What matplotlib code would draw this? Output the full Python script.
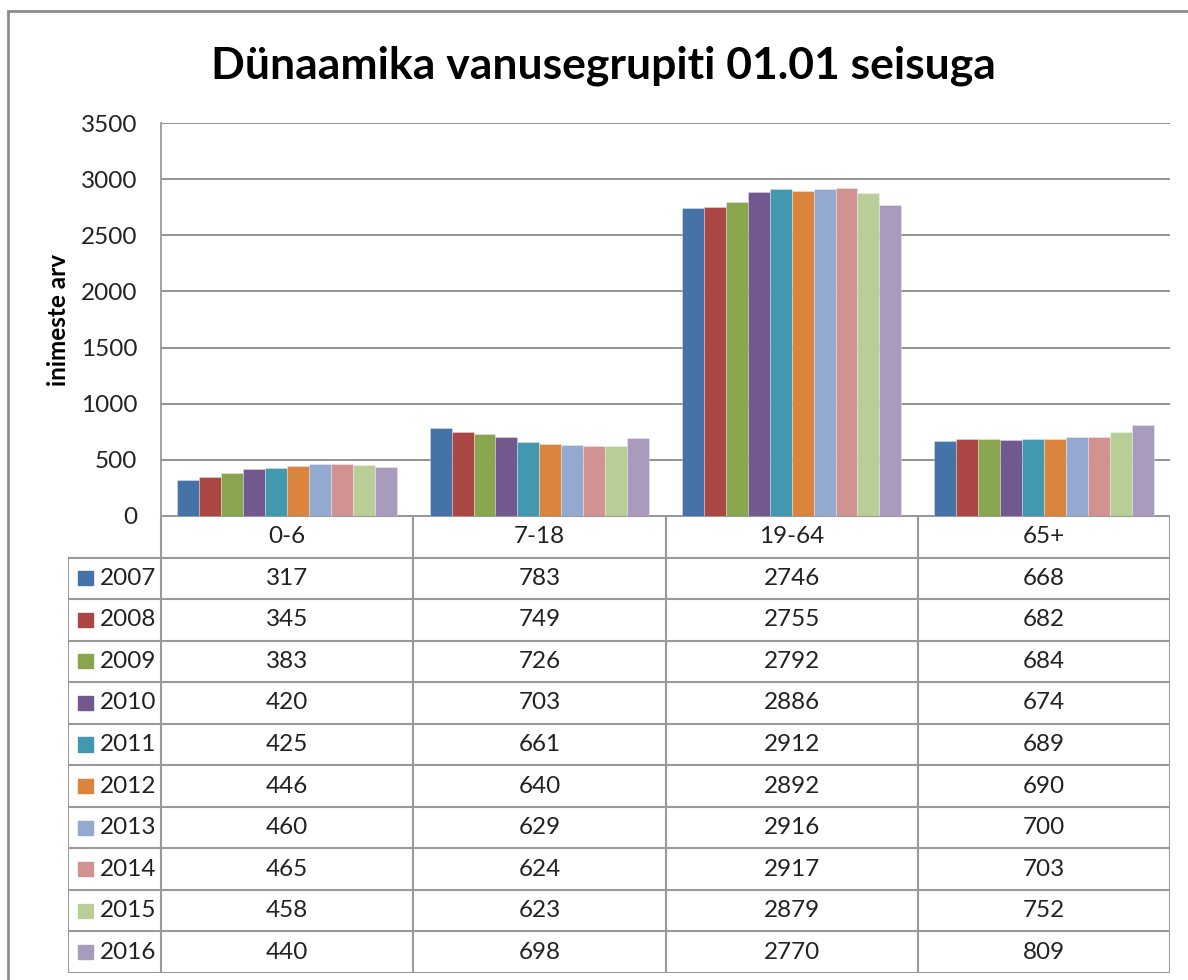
import matplotlib.pyplot as plt
from matplotlib.patches import Rectangle
import numpy as np

plt.rcParams['font.family'] = ['Lato', 'DejaVu Sans']

categories = ['0-6', '7-18', '19-64', '65+']
years = ['2007', '2008', '2009', '2010', '2011', '2012', '2013', '2014', '2015', '2016']
values = [
    [317, 783, 2746, 668],
    [345, 749, 2755, 682],
    [383, 726, 2792, 684],
    [420, 703, 2886, 674],
    [425, 661, 2912, 689],
    [446, 640, 2892, 690],
    [460, 629, 2916, 700],
    [465, 624, 2917, 703],
    [458, 623, 2879, 752],
    [440, 698, 2770, 809],
]
colors = ['#4572A7', '#AA4643', '#89A54E', '#71588F', '#4198AF',
          '#DB843D', '#93A9CF', '#D19392', '#B9CD96', '#A99BBD']
yticks = [0, 500, 1000, 1500, 2000, 2500, 3000, 3500]

W, H = 1188, 980
fig = plt.figure(figsize=(W / 100, H / 100), dpi=100)
line_col = '#9A9A9A'
fs = 17.5

# outer chart border (cut off at right and bottom like the screenshot)
fig.patches.append(Rectangle((8 / W, -0.05), 1.1, 1 - 11 / H + 0.05,
                             transform=fig.transFigure, fill=False,
                             edgecolor='#8C8C8C', lw=2))

# bar chart
x0, x1, ytop, ybot = 161, 1170, 123, 516
ax = fig.add_axes([x0 / W, 1 - ybot / H, (x1 - x0) / W, (ybot - ytop) / H])
x = np.arange(len(categories))
n = len(years)
bw = 0.87 / n
for i, (yr, vals) in enumerate(zip(years, values)):
    ax.bar(x - 0.435 + bw * (i + 0.5), vals, width=bw, color=colors[i],
           edgecolor=(1, 1, 1, 0.35), linewidth=0.6, zorder=3)
ax.set_xlim(-0.5, len(categories) - 0.5)
ax.set_ylim(0, 3500)
ax.set_yticks(yticks)
ax.set_yticklabels([str(t) for t in yticks], fontsize=fs, color='#222222')
ax.set_xticks([])
ax.yaxis.grid(True, color='#8A8A8A', lw=1.3, zorder=0)
for s in ['top', 'right', 'bottom']:
    ax.spines[s].set_visible(False)
ax.spines['left'].set_color(line_col)
ax.spines['left'].set_linewidth(1.3)
ax.tick_params(axis='y', length=0, pad=17)
ax.set_ylabel('inimeste arv', fontsize=17.5, fontweight='bold', labelpad=8)

fig.text(603 / W, 1 - 66 / H, 'Dünaamika vanusegrupiti 01.01 seisuga',
         ha='center', va='center', fontsize=32, fontweight='bold')

# data table
tx0, tbot = 68, 973
lead = (x0 - tx0) / (x1 - x0) * len(categories)
tax = fig.add_axes([tx0 / W, 1 - tbot / H, (x1 - tx0) / W, (tbot - ybot) / H])
tax.set_xlim(-0.5 - lead, len(categories) - 0.5)
nrows = n + 1
tax.set_ylim(nrows, 0)
tax.axis('off')
lk = dict(color=line_col, lw=1.5)
left = -0.5 - lead
right = len(categories) - 0.5
# horizontal lines
tax.plot([-0.5, right], [0, 0], **lk)
for r in range(1, nrows + 1):
    tax.plot([left, right], [r, r], **lk)
# vertical lines
tax.plot([left, left], [1, nrows], **lk)
for c in range(len(categories) + 1):
    tax.plot([c - 0.5, c - 0.5], [0, nrows], **lk)
for c, cat in enumerate(categories):
    tax.text(c, 0.5, cat, ha='center', va='center', fontsize=fs, color='#222222')
for i, yr in enumerate(years):
    r = i + 1.5
    tax.add_patch(Rectangle((left + 0.04, r - 0.17), 0.06, 0.34,
                            color=colors[i], transform=tax.transData))
    tax.text(left + 0.125, r, yr, ha='left', va='center', fontsize=fs, color='#222222')
    for c in range(len(categories)):
        tax.text(c, r, str(values[i][c]), ha='center', va='center',
                 fontsize=fs, color='#222222')

fig.savefig('out.png', dpi=100)
